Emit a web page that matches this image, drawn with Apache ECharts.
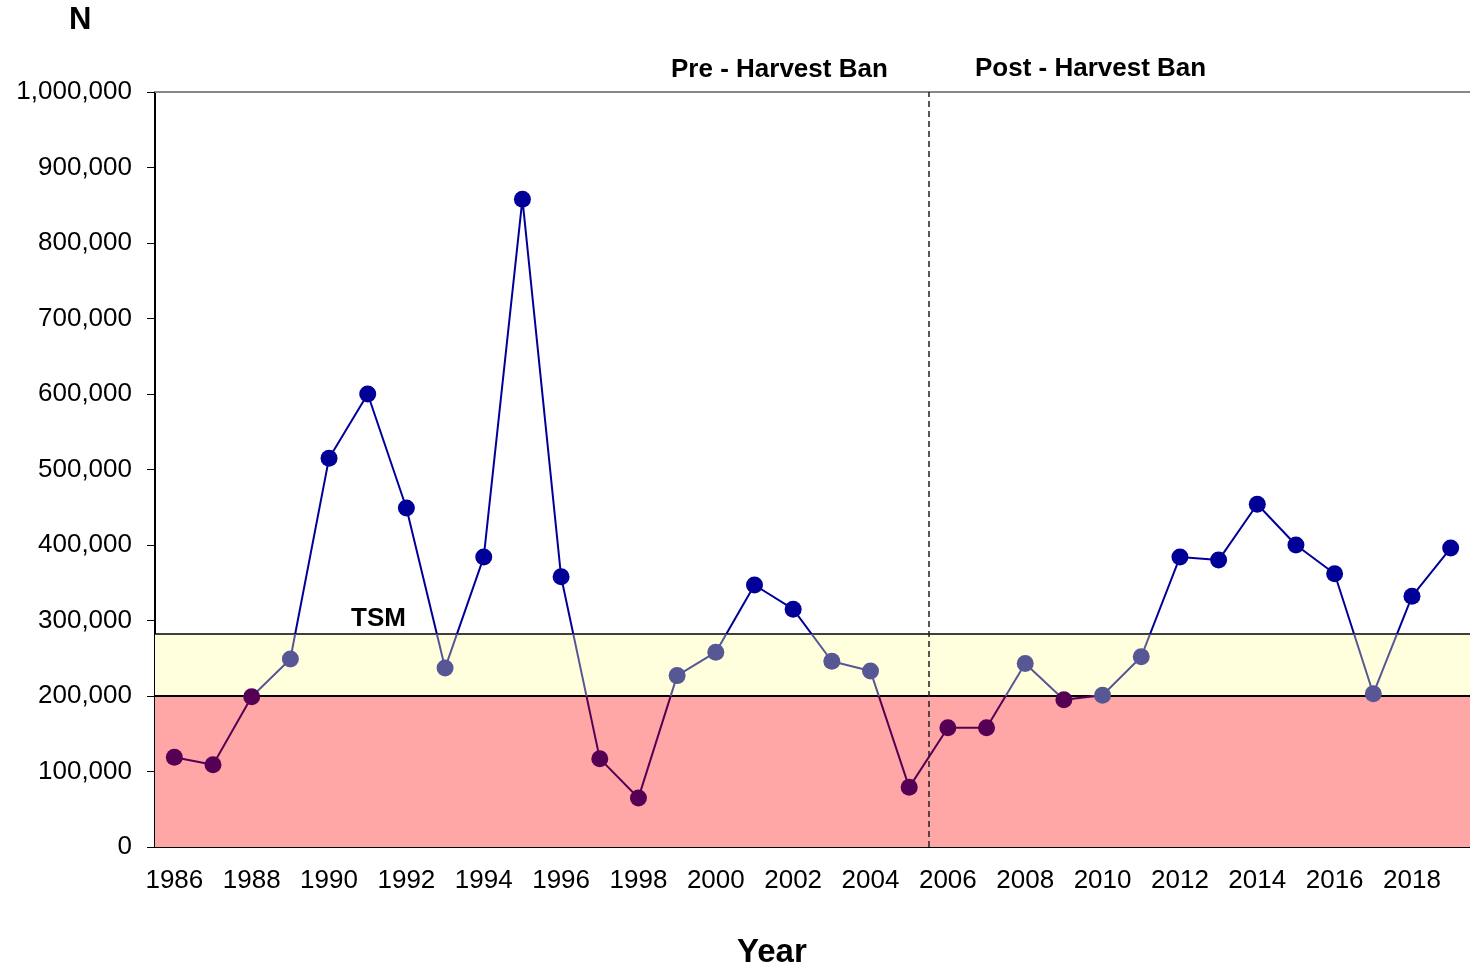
<!DOCTYPE html>
<html>
<head>
<meta charset="utf-8">
<script src="https://cdn.jsdelivr.net/npm/echarts@6/dist/echarts.min.js"></script>
<style>
  html, body { margin: 0; padding: 0; background: #fff; }
  #chart { width: 1470px; height: 969px; }
</style>
</head>
<body>
<div id="chart"></div>
<script>
const years = ['1986', '1987', '1988', '1989', '1990', '1991', '1992', '1993', '1994', '1995',
  '1996', '1997', '1998', '1999', '2000', '2001', '2002', '2003', '2004', '2005',
  '2006', '2007', '2008', '2009', '2010', '2011', '2012', '2013', '2014', '2015',
  '2016', '2017', '2018', '2019'];
const counts = [119000, 109000, 199000, 249000, 515000, 600000, 449000, 237000, 384000, 858000,
  358000, 117000, 65000, 227000, 258000, 347000, 315000, 246000, 233000, 79000,
  158000, 158000, 243000, 195000, 201000, 252000, 384000, 380000, 454000, 400000,
  362000, 203000, 332000, 396000];
const firstQ = 200000;
const tsm = 282000;
const banBoundary = 20; // between 2005 and 2006 (category edges)

const FONT = '"Liberation Sans", Arial, sans-serif';
const chart = echarts.init(document.getElementById('chart'));

chart.setOption({
  animation: false,
  textStyle: { fontFamily: FONT },
  grid: { left: 155, right: 0, top: 92, bottom: 122 },
  xAxis: [
    {
      type: 'category',
      data: years,
      boundaryGap: true,
      axisLine: { lineStyle: { color: '#000', width: 2 } },
      axisTick: { interval: 0, length: 8, lineStyle: { color: '#000', width: 1 } },
      axisLabel: { interval: 1, fontSize: 26, color: '#000', margin: 21, fontFamily: FONT },
      splitLine: { show: false }
    },
    {
      type: 'value',
      position: 'top',
      min: 0,
      max: years.length,
      axisLine: { show: true, lineStyle: { color: '#888', width: 2 } },
      axisTick: { show: false },
      axisLabel: { show: false },
      splitLine: { show: false }
    }
  ],
  yAxis: {
    type: 'value',
    min: 0,
    max: 1000000,
    interval: 100000,
    axisLine: { show: true, lineStyle: { color: '#000', width: 2 } },
    axisTick: { show: true, length: 8, lineStyle: { color: '#000' } },
    axisLabel: {
      fontSize: 26, color: '#000', margin: 23, fontFamily: FONT,
      formatter: (v) => v.toLocaleString('en-US')
    },
    splitLine: { show: false }
  },
  visualMap: {
    show: false,
    type: 'piecewise',
    seriesIndex: 0,
    dimension: 1,
    pieces: [
      { lt: firstQ, color: '#550055' },
      { gte: firstQ, lt: tsm, color: '#575795' },
      { gte: tsm, color: '#000099' }
    ]
  },
  series: [
    {
      type: 'line',
      data: counts,
      z: 5,
      symbol: 'circle',
      symbolSize: 17,
      lineStyle: { width: 2 }
    },
    {
      type: 'line',
      xAxisIndex: 1,
      data: [],
      z: 1,
      silent: true,
      markArea: {
        silent: true,
        data: [
          [{ yAxis: 0, itemStyle: { color: '#ffa6a6' } }, { yAxis: firstQ }],
          [{ yAxis: firstQ, itemStyle: { color: '#ffffdd' } }, { yAxis: tsm }]
        ]
      },
      markLine: {
        silent: true,
        symbol: 'none',
        label: { show: false },
        data: [
          { yAxis: firstQ, lineStyle: { color: '#000', width: 2, type: 'solid' } },
          { yAxis: tsm, lineStyle: { color: '#000', width: 1.5, type: 'solid' } },
          { xAxis: banBoundary, lineStyle: { color: '#222', width: 1.5, type: [6, 4] } }
        ]
      }
    }
  ],
  graphic: [
    { type: 'text', left: 69, top: 5, style: { text: 'N', font: 'bold 31px ' + FONT, fill: '#000' } },
    { type: 'text', left: 737, top: 936, style: { text: 'Year', font: 'bold 33px ' + FONT, fill: '#000' } },
    { type: 'text', left: 671, top: 57, style: { text: 'Pre - Harvest Ban', font: 'bold 26px ' + FONT, fill: '#000' } },
    { type: 'text', left: 975, top: 56, style: { text: 'Post - Harvest Ban', font: 'bold 26px ' + FONT, fill: '#000' } },
    { type: 'text', left: 351, top: 606, style: { text: 'TSM', font: 'bold 26px ' + FONT, fill: '#000' } },
    { type: 'text', left: 350, top: 708, style: { text: '1st Q', font: 'bold 26px ' + FONT, fill: '#000' } }
  ]
});
</script>
</body>
</html>
